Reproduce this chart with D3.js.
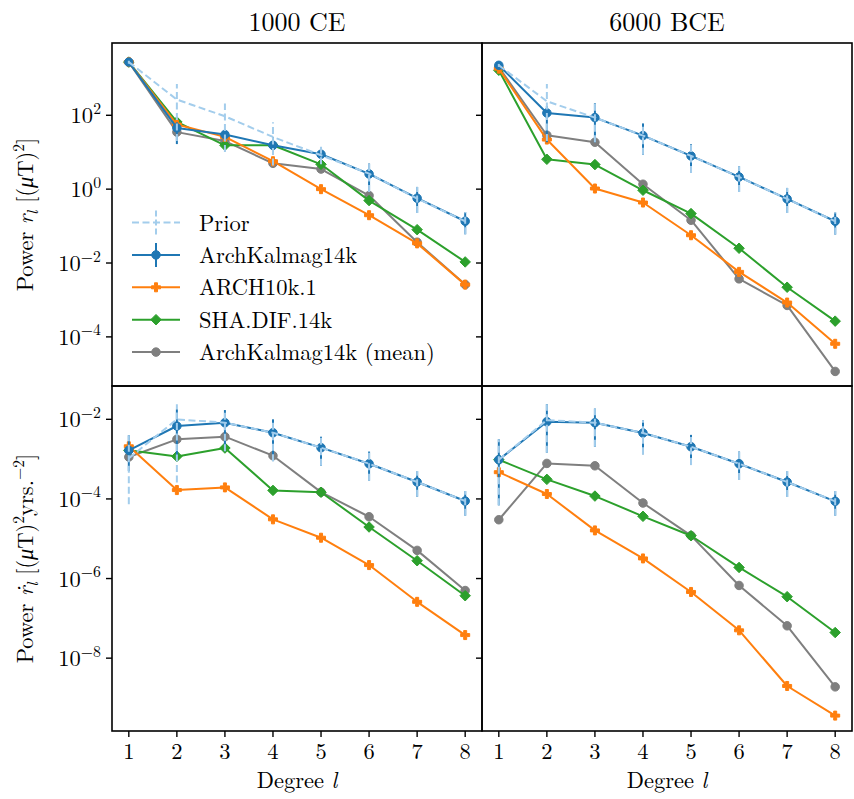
<!DOCTYPE html>
<html><head><meta charset="utf-8">
<script src="https://cdn.jsdelivr.net/npm/d3@7"></script>
<style>body{margin:0;background:#fff}svg{display:block}</style>
</head><body>
<svg id="c" width="854" height="799"></svg>
<script>
// ---------------- DATA ----------------
const degrees = [1,2,3,4,5,6,7,8];
const epochs = ["1000 CE","6000 BCE"];
const seriesNames = ["Prior","ArchKalmag14k","ARCH10k.1","SHA.DIF.14k","ArchKalmag14k (mean)"];
const yTicksPower = [1e2,1e0,1e-2,1e-4];
const yTicksRate = [1e-2,1e-4,1e-6,1e-8];

// 1000 CE, power r_l
const prior_1000ce_r    = [2754, 266, 94, 25.9, 8.26, 2.63, 0.556, 0.135];
const prior_1000ce_r_lo = [2500, 20, 10.2, 4.4, 4.7, 0.84, 0.227, 0.060];
const prior_1000ce_r_hi = [3000, 708, 207, 64.6, 15.5, 4.93, 1.15, 0.241];
const akm_1000ce_r      = [2754, 45.4, 30.0, 15.4, 8.79, 2.58, 0.568, 0.135];
const akm_1000ce_r_lo   = [2500, 16.6, 20, 10, 5.8, 0.84, 0.227, 0.060];
const akm_1000ce_r_hi   = [3000, 64.6, 41.7, 25.1, 11.7, 4.93, 1.15, 0.241];
const arch_1000ce_r     = [2754, 56, 26, 5.7, 1.0, 0.197, 0.034, 0.0026];
const sha_1000ce_r      = [2754, 66, 15.4, 15.4, 4.7, 0.49, 0.080, 0.0107];
const mean_1000ce_r     = [2754, 35, 20, 5.0, 3.5, 0.67, 0.0366, 0.0026];

// 6000 BCE, power r_l
const prior_6000bce_r    = [2254, 240, 86.5, 28.2, 7.93, 2.14, 0.543, 0.135];
const prior_6000bce_r_lo = [2040, 20, 18.6, 8.5, 2.74, 0.84, 0.227, 0.059];
const prior_6000bce_r_hi = [2455, 703, 211, 60.3, 16.4, 4.17, 1.08, 0.233];
const akm_6000bce_r      = [2254, 115.6, 86.5, 28.2, 7.93, 2.14, 0.543, 0.135];
const akm_6000bce_r_lo   = [2040, 18.6, 18.6, 8.5, 2.74, 0.84, 0.227, 0.059];
const akm_6000bce_r_hi   = [2455, 178, 211, 60.3, 16.4, 4.17, 1.08, 0.233];
const arch_6000bce_r     = [1832, 22.0, 1.04, 0.434, 0.0565, 0.00575, 0.00085, 6.5e-5];
const sha_6000bce_r      = [1652, 6.44, 4.62, 0.933, 0.218, 0.0251, 0.00221, 2.67e-4];
const mean_6000bce_r     = [1995, 28.8, 18.6, 1.36, 0.144, 0.00372, 0.00071, 1.16e-5];

// 1000 CE, secular variation power rdot_l
const prior_1000ce_rd    = [1.05e-3, 1.0e-2, 8.22e-3, 4.61e-3, 1.94e-3, 7.67e-4, 2.66e-4, 8.85e-5];
const prior_1000ce_rd_lo = [7.3e-5, 2.57e-4, 1.58e-3, 8.9e-4, 6.8e-4, 2.88e-4, 1.135e-4, 3.8e-5];
const prior_1000ce_rd_hi = [3.98e-3, 2.4e-2, 1.71e-2, 1.0e-2, 3.66e-3, 1.55e-3, 5.0e-4, 1.58e-4];
const akm_1000ce_rd      = [1.66e-3, 6.79e-3, 8.22e-3, 4.61e-3, 1.94e-3, 7.67e-4, 2.66e-4, 8.85e-5];
const akm_1000ce_rd_lo   = [5.0e-4, 1.0e-3, 1.58e-3, 8.9e-4, 6.8e-4, 2.88e-4, 1.135e-4, 3.8e-5];
const akm_1000ce_rd_hi   = [3.98e-3, 1.78e-2, 1.71e-2, 1.0e-2, 3.66e-3, 1.55e-3, 5.0e-4, 1.58e-4];
const arch_1000ce_rd     = [2.1e-3, 1.67e-4, 1.95e-4, 3.07e-5, 1.06e-5, 2.18e-6, 2.6e-7, 3.8e-8];
const sha_1000ce_rd      = [1.66e-3, 1.17e-3, 1.9e-3, 1.64e-4, 1.47e-4, 1.97e-5, 2.8e-6, 3.7e-7];
const mean_1000ce_rd     = [1.13e-3, 3.14e-3, 3.66e-3, 1.22e-3, 1.48e-4, 3.57e-5, 5.1e-6, 5.0e-7];

// 6000 BCE, secular variation power rdot_l
const prior_6000bce_rd    = [9.66e-4, 9.55e-3, 8.22e-3, 4.53e-3, 2.05e-3, 7.67e-4, 2.66e-4, 8.7e-5];
const prior_6000bce_rd_lo = [6.9e-5, 1.45e-3, 2.04e-3, 1.32e-3, 7.1e-4, 2.99e-4, 1.12e-4, 3.8e-5];
const prior_6000bce_rd_hi = [3.16e-3, 2.4e-2, 1.86e-2, 9.44e-3, 4.07e-3, 1.55e-3, 5.0e-4, 1.58e-4];
const akm_6000bce_rd      = [9.66e-4, 8.71e-3, 8.22e-3, 4.53e-3, 2.05e-3, 7.67e-4, 2.66e-4, 8.7e-5];
const akm_6000bce_rd_lo   = [6.9e-5, 1.45e-3, 2.04e-3, 1.32e-3, 7.1e-4, 2.99e-4, 1.12e-4, 3.8e-5];
const akm_6000bce_rd_hi   = [3.16e-3, 2.4e-2, 1.86e-2, 9.44e-3, 4.07e-3, 1.55e-3, 5.0e-4, 1.58e-4];
const arch_6000bce_rd     = [4.7e-4, 1.33e-4, 1.62e-5, 3.2e-6, 4.6e-7, 5.0e-8, 2.0e-9, 3.6e-10];
const sha_6000bce_rd      = [9.66e-4, 3.1e-4, 1.18e-4, 3.66e-5, 1.19e-5, 1.9e-6, 3.5e-7, 4.4e-8];
const mean_6000bce_rd     = [3.0e-5, 7.8e-4, 6.8e-4, 7.9e-5, 1.2e-5, 6.7e-7, 6.5e-8, 1.9e-9];

// ---------------- STYLE / LAYOUT ----------------
const FONT = '"Latin Modern Roman", "CMU Serif", "Liberation Serif", serif';
const C = {prior:"#a3cdec", akm:"#1f77b4", arch:"#ff7f0e", sha:"#2ca02c", mean:"#7f7f7f"};
const colX = [[112,482],[482,852]];
const rowY = [[43,386],[386,731]];
const xDomain = [0.65, 8.35];
const yDomains = [[Math.pow(10,-5.33), Math.pow(10,3.957)], [Math.pow(10,-9.83), Math.pow(10,-1.163)]];
const FS = 22.5;

const svg = d3.select("#c").style("font-family", FONT);
svg.append("rect").attr("width",854).attr("height",799).attr("fill","#fff");

const panelData = [
  [ {prior:prior_1000ce_r, priorLo:prior_1000ce_r_lo, priorHi:prior_1000ce_r_hi, akm:akm_1000ce_r, akmLo:akm_1000ce_r_lo, akmHi:akm_1000ce_r_hi, arch:arch_1000ce_r, sha:sha_1000ce_r, mean:mean_1000ce_r},
    {prior:prior_6000bce_r, priorLo:prior_6000bce_r_lo, priorHi:prior_6000bce_r_hi, akm:akm_6000bce_r, akmLo:akm_6000bce_r_lo, akmHi:akm_6000bce_r_hi, arch:arch_6000bce_r, sha:sha_6000bce_r, mean:mean_6000bce_r} ],
  [ {prior:prior_1000ce_rd, priorLo:prior_1000ce_rd_lo, priorHi:prior_1000ce_rd_hi, akm:akm_1000ce_rd, akmLo:akm_1000ce_rd_lo, akmHi:akm_1000ce_rd_hi, arch:arch_1000ce_rd, sha:sha_1000ce_rd, mean:mean_1000ce_rd},
    {prior:prior_6000bce_rd, priorLo:prior_6000bce_rd_lo, priorHi:prior_6000bce_rd_hi, akm:akm_6000bce_rd, akmLo:akm_6000bce_rd_lo, akmHi:akm_6000bce_rd_hi, arch:arch_6000bce_rd, sha:sha_6000bce_rd, mean:mean_6000bce_rd} ]
];

// rich text helper
function rich(sel, parts, baseSize){
  let shift = 0;
  parts.forEach(p=>{
    const t = sel.append("tspan").text(p.t);
    let target = 0;
    if(p.sup) target = -0.42*baseSize;
    if(p.sub) target = 0.22*baseSize;
    if(target!==shift){ t.attr("dy", target-shift); shift = target; }
    if(p.sup||p.sub) t.style("font-size", (baseSize*0.7)+"px");
    if(p.it) t.style("font-style","italic");
  });
}

// markers
function markerPath(type, s){
  if(type==="circle") return d3.symbol().type(d3.symbolCircle).size(Math.PI*s*s/4)();
  if(type==="diamond"){ const h=s/2; return `M0,${-h}L${h},0L0,${h}L${-h},0Z`; }
  if(type==="plus"){ const h=s/2, a=s/6; return `M${-a},${-h}H${a}V${-a}H${h}V${a}H${a}V${h}H${-a}V${a}H${-h}V${-a}H${-a}Z`; }
  return "";
}

function drawSeries(g, x, y, vals, opt){
  const pts = degrees.map((d,i)=>[x(d), y(vals[i])]);
  if(opt.lo){
    g.append("g").selectAll("line").data(degrees).join("line")
      .attr("x1",d=>x(d)).attr("x2",d=>x(d))
      .attr("y1",(d,i)=>y(opt.lo[i])).attr("y2",(d,i)=>y(opt.hi[i]))
      .attr("stroke",opt.color).attr("stroke-width",2)
      .attr("stroke-dasharray",opt.dash||null);
  }
  g.append("path").attr("d", d3.line()(pts)).attr("fill","none")
    .attr("stroke",opt.color).attr("stroke-width",2)
    .attr("stroke-dasharray",opt.dash||null).attr("stroke-linejoin","round");
  if(opt.marker){
    g.append("g").selectAll("path").data(pts).join("path")
      .attr("transform",p=>`translate(${p[0]},${p[1]})`)
      .attr("d",markerPath(opt.marker,opt.ms)).attr("fill",opt.color)
      .attr("stroke",opt.color).attr("stroke-width",1);
  }
}

for(let r=0;r<2;r++){
  for(let c=0;c<2;c++){
    const x = d3.scaleLinear().domain(xDomain).range(colX[c]);
    const y = d3.scaleLog().domain(yDomains[r]).range([rowY[r][1], rowY[r][0]]);
    const D = panelData[r][c];
    const g = svg.append("g");
    // draw order: mean, sha, arch, akm, prior
    drawSeries(g,x,y,D.mean,{color:C.mean,marker:"circle",ms:8.5});
    drawSeries(g,x,y,D.sha,{color:C.sha,marker:"diamond",ms:10.5});
    drawSeries(g,x,y,D.arch,{color:C.arch,marker:"plus",ms:9});
    drawSeries(g,x,y,D.akm,{color:C.akm,marker:"circle",ms:8.5,lo:D.akmLo,hi:D.akmHi});
    drawSeries(g,x,y,D.prior,{color:C.prior,dash:"7,3.5",lo:D.priorLo,hi:D.priorHi});

    // y ticks
    const ticks = r===0 ? yTicksPower : yTicksRate;
    const tg = svg.append("g");
    ticks.forEach(t=>{
      tg.append("line").attr("x1",colX[c][0]-6).attr("x2",colX[c][0])
        .attr("y1",y(t)).attr("y2",y(t)).attr("stroke","#000").attr("stroke-width",1.4);
      if(c===0){
        const e = Math.round(Math.log10(t));
        const txt = tg.append("text").attr("x",colX[c][0]-11).attr("y",y(t)+8)
          .attr("text-anchor","end").style("font-size",FS+"px");
        rich(txt,[{t:"10"},{t:(e<0?"\u2212":"")+Math.abs(e),sup:true}],FS);
      }
    });
    // x ticks on bottom row
    if(r===1){
      degrees.forEach(d=>{
        tg.append("line").attr("x1",x(d)).attr("x2",x(d))
          .attr("y1",rowY[r][1]).attr("y2",rowY[r][1]+6).attr("stroke","#000").attr("stroke-width",1.4);
        tg.append("text").attr("x",x(d)).attr("y",759).attr("text-anchor","middle")
          .style("font-size",FS+"px").text(d);
      });
      const xl = tg.append("text").attr("x",(colX[c][0]+colX[c][1])/2).attr("y",787.5)
        .attr("text-anchor","middle").style("font-size",FS+"px");
      rich(xl,[{t:"Degree "},{t:"l",it:true}],FS);
    }
    // frame
    svg.append("rect").attr("x",colX[c][0]).attr("y",rowY[r][0])
      .attr("width",colX[c][1]-colX[c][0]).attr("height",rowY[r][1]-rowY[r][0])
      .attr("fill","none").attr("stroke","#000").attr("stroke-width",1.6);
  }
}

// titles
epochs.forEach((t,c)=>{
  svg.append("text").attr("x",(colX[c][0]+colX[c][1])/2).attr("y",31)
    .attr("text-anchor","middle").style("font-size","26px").text(t);
});

// y labels
const yl1 = svg.append("text").attr("transform",`translate(33,${(rowY[0][0]+rowY[0][1])/2}) rotate(-90)`)
  .attr("text-anchor","middle").style("font-size",FS+"px");
rich(yl1,[{t:"Power "},{t:"r",it:true},{t:"l",it:true,sub:true},{t:" [("},{t:"\u03bc",it:true},{t:"T)"},{t:"2",sup:true},{t:"]"}],FS);
const yl2 = svg.append("text").attr("transform",`translate(33,${(rowY[1][0]+rowY[1][1])/2}) rotate(-90)`)
  .attr("text-anchor","middle").style("font-size",FS+"px");
rich(yl2,[{t:"Power "},{t:"\u1e59",it:true},{t:"l",it:true,sub:true},{t:" [("},{t:"\u03bc",it:true},{t:"T)"},{t:"2",sup:true},{t:"yrs."},{t:"\u22122",sup:true},{t:"]"}],FS);

// legend
const legend = svg.append("g");
const legendStyles = [
  {color:C.prior,dash:"7,3.5",err:true},
  {color:C.akm,marker:"circle",ms:8.5,err:true},
  {color:C.arch,marker:"plus",ms:9},
  {color:C.sha,marker:"diamond",ms:10.5},
  {color:C.mean,marker:"circle",ms:8.5}
];
seriesNames.forEach((name,i)=>{
  const yy = 222.5 + i*32.4;
  const st = legendStyles[i];
  legend.append("line").attr("x1",132).attr("x2",180).attr("y1",yy).attr("y2",yy)
    .attr("stroke",st.color).attr("stroke-width",2).attr("stroke-dasharray",st.dash||null);
  if(st.err) legend.append("line").attr("x1",156).attr("x2",156).attr("y1",yy-12).attr("y2",yy+12)
    .attr("stroke",st.color).attr("stroke-width",2).attr("stroke-dasharray",st.dash?"6,3":null);
  if(st.marker) legend.append("path").attr("transform",`translate(156,${yy})`)
    .attr("d",markerPath(st.marker,st.ms)).attr("fill",st.color).attr("stroke",st.color);
  legend.append("text").attr("x",199).attr("y",yy+8).style("font-size",FS+"px").text(name);
});
</script>
</body></html>
